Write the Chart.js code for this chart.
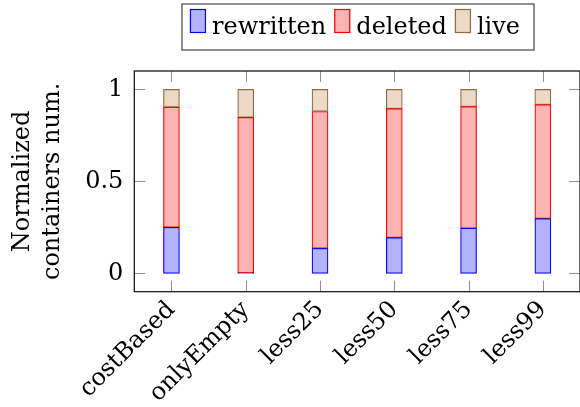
<!DOCTYPE html>
<html>
<head>
<meta charset="utf-8">
<script src="https://cdn.jsdelivr.net/npm/chart.js@4.4.1/dist/chart.umd.min.js"></script>
<style>
  html, body { margin: 0; padding: 0; background: #ffffff; }
  #wrap { width: 580px; height: 407px; }
</style>
</head>
<body>
<div id="wrap"><canvas id="chart" width="580" height="407"></canvas></div>
<script>
// Container strategies and the normalized share of each container state
const categories = ['costBased', 'onlyEmpty', 'less25', 'less50', 'less75', 'less99'];
const rewritten = [0.250, 0.003, 0.136, 0.194, 0.245, 0.297];
const deleted   = [0.654, 0.845, 0.744, 0.701, 0.661, 0.620];
const live      = [0.096, 0.152, 0.120, 0.105, 0.094, 0.083];
const yTickValues = [0, 0.5, 1];
const yTitleLines = ['Normalized', 'containers num.'];

const FONT = 'DejaVu Serif';

// Inward tick marks on all four sides plus the closed axis box
const axisBox = {
  id: 'axisBox',
  afterDatasetsDraw(chart) {
    const { ctx, chartArea: a, scales } = chart;
    const len = 11;
    const left = scales.x.getPixelForValue(-0.5);
    const right = scales.x.getPixelForValue(categories.length - 0.5);
    ctx.save();
    ctx.strokeStyle = '#909090';
    ctx.lineWidth = 1;
    ctx.beginPath();
    categories.forEach((_, i) => {
      const x = Math.round(scales.x.getPixelForValue(i)) + 0.5;
      ctx.moveTo(x, a.bottom); ctx.lineTo(x, a.bottom - len);
      ctx.moveTo(x, a.top); ctx.lineTo(x, a.top + len);
    });
    yTickValues.forEach(v => {
      const y = Math.round(scales.y.getPixelForValue(v)) + 0.5;
      ctx.moveTo(left, y); ctx.lineTo(left + len, y);
      ctx.moveTo(right, y); ctx.lineTo(right - len, y);
    });
    ctx.stroke();
    ctx.strokeStyle = '#1a1a1a';
    ctx.lineWidth = 1.3;
    ctx.strokeRect(left, a.top, right - left, a.bottom - a.top);
    ctx.restore();
  }
};

// Boxed legend above the plot, built from the dataset labels and colours
const boxedLegend = {
  id: 'boxedLegend',
  afterDraw(chart) {
    const { ctx } = chart;
    const boxW = 16, boxH = 24, gapText = 6, gapItem = 8;
    const padL = 8, padR = 14, centerX = 358, top = 4, bottom = 50;
    ctx.save();
    ctx.font = '24px "' + FONT + '"';
    const items = chart.data.datasets.map(ds => ({
      label: ds.label, fill: ds.backgroundColor, stroke: ds.borderColor,
      w: ctx.measureText(ds.label).width
    }));
    let content = 0;
    items.forEach((it, i) => { content += boxW + gapText + it.w + (i < items.length - 1 ? gapItem : 0); });
    const frameW = padL + content + padR;
    const left = centerX - frameW / 2;
    ctx.strokeStyle = '#555555';
    ctx.lineWidth = 1.3;
    ctx.fillStyle = '#ffffff';
    ctx.fillRect(left, top, frameW, bottom - top);
    ctx.strokeRect(left, top, frameW, bottom - top);
    let x = left + padL;
    items.forEach(it => {
      ctx.fillStyle = it.fill;
      ctx.fillRect(x, 9, boxW, boxH);
      ctx.strokeStyle = it.stroke;
      ctx.lineWidth = 1.2;
      ctx.strokeRect(x + 0.5, 9.5, boxW - 1, boxH - 1);
      x += boxW + gapText;
      ctx.fillStyle = '#000000';
      ctx.textBaseline = 'alphabetic';
      ctx.textAlign = 'left';
      ctx.fillText(it.label, x, 34);
      x += it.w + gapItem;
    });
    ctx.restore();
  }
};

const barStyle = { barThickness: 16, borderWidth: 1.2, borderSkipped: false };

new Chart(document.getElementById('chart'), {
  type: 'bar',
  data: {
    labels: categories,
    datasets: [
      { label: 'rewritten', data: rewritten, backgroundColor: '#b3b3ff', borderColor: '#0000ff', ...barStyle },
      { label: 'deleted',   data: deleted,   backgroundColor: '#ffb3b3', borderColor: '#ff0000', ...barStyle },
      { label: 'live',      data: live,      backgroundColor: '#ecd9c6', borderColor: '#8f6a45', ...barStyle }
    ]
  },
  options: {
    responsive: false,
    animation: false,
    devicePixelRatio: 1,
    layout: { padding: { top: 71, left: 0, right: -2.5, bottom: 0 } },
    plugins: {
      legend: { display: false },
      tooltip: { enabled: false }
    },
    scales: {
      x: {
        stacked: true,
        offset: true,
        grid: { display: false, drawTicks: false },
        border: { display: false },
        ticks: {
          autoSkip: false,
          minRotation: 45,
          maxRotation: 45,
          padding: 4,
          color: '#000000',
          font: { family: FONT, size: 24 }
        },
        afterFit(scale) { scale.height = 115.3; }
      },
      y: {
        stacked: true,
        min: -0.1,
        max: 1.1,
        grid: { display: false, drawTicks: false },
        border: { display: false },
        afterBuildTicks(scale) { scale.ticks = yTickValues.map(v => ({ value: v })); },
        ticks: {
          padding: 11,
          color: '#000000',
          font: { family: FONT, size: 24 },
          callback: v => String(v)
        },
        title: {
          display: true,
          text: yTitleLines,
          color: '#000000',
          font: { family: FONT, size: 24, lineHeight: 1.25 },
          padding: { top: 8, bottom: 0 }
        },
        afterFit(scale) { scale.width = 134.3; }
      }
    }
  },
  plugins: [axisBox, boxedLegend]
});
</script>
</body>
</html>
